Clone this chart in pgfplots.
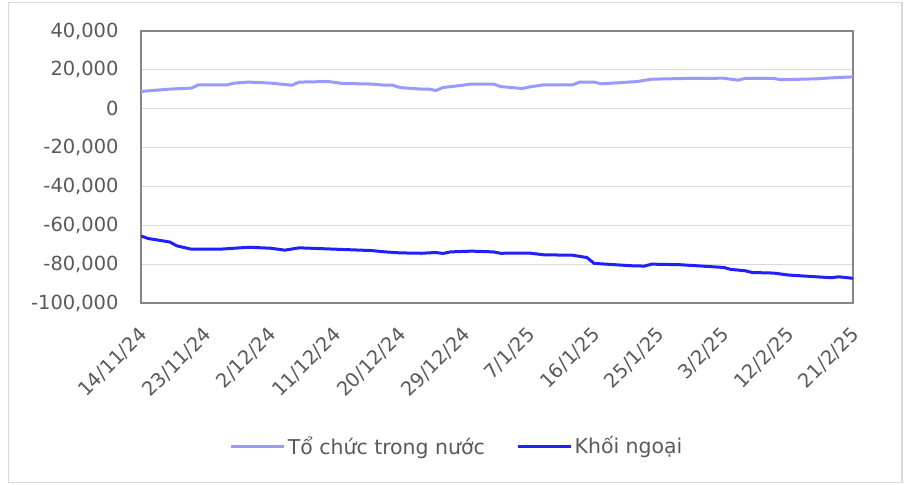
\documentclass[border=0pt]{standalone}
\usepackage{fontspec}
\setmainfont{DejaVu Sans}
\usepackage{pgfplots}
\pgfplotsset{compat=1.18}
\definecolor{dom}{HTML}{9999FF}
\definecolor{for}{HTML}{1F1FFF}
\definecolor{txt}{HTML}{595959}
\definecolor{grd}{HTML}{D9D9D9}
\definecolor{frm}{HTML}{868686}
\begin{document}
\begin{tikzpicture}
\useasboundingbox (0bp,0bp) rectangle (914bp,-485bp);
\draw[grd, line width=1.2bp] (8.5bp,-2.5bp) rectangle (902bp,-482.5bp);
\begin{axis}[
  at={(141bp,-303bp)}, anchor=south west,
  scale only axis, width=712bp, height=272bp,
  xmin=0, xmax=99, ymin=-100000, ymax=40000,
  axis line style={frm, line width=1.3bp},
  xtick={0,9,...,99},
  xticklabels={14/11/24,23/11/24,2/12/24,11/12/24,20/12/24,29/12/24,7/1/25,16/1/25,25/1/25,3/2/25,12/2/25,21/2/25},
  ytick={-100000,-80000,-60000,-40000,-20000,0,20000,40000},
  scaled y ticks=false,
  yticklabels={{-100,000},{-80,000},{-60,000},{-40,000},{-20,000},{0},{20,000},{40,000}},
  major tick length=0pt,
  ymajorgrids, grid style={grd, line width=1.2bp},
  tick label style={font=\fontsize{19.5}{22}\selectfont, text=txt},
  y tick label style={xshift=-19bp},
  x tick label style={rotate=45, anchor=east, xshift=-15bp, yshift=-22bp},
  legend style={at={(0.444,-0.526)}, anchor=center, draw=none, fill=none,
    font=\fontsize{20.5}{24}\selectfont, text=txt, legend columns=2,
    /tikz/every even column/.append style={column sep=30bp},
    inner xsep=0pt, legend cell align=left},
  legend image code/.code={\draw[#1] (0bp,0bp) -- (53bp,0bp);},
]
\addplot[dom, line width=3bp] coordinates {
(0,8870) (4,10100) (7,10600) (8,12300) (12,12300) (13,13200) (15,13700) (18,13200)
(21,12100) (22,13700) (26,14000) (28,13000) (32,12700) (34,12100) (35,12100) (36,10900)
(39,10100) (40,10100) (41,9400) (42,10900) (46,12700) (49,12700) (50,11400) (53,10400)
(54,11200) (56,12300) (60,12300) (61,13700) (63,13700) (64,12800) (67,13500) (69,14000)
(71,15200) (76,15600) (81,15700) (83,14700) (84,15600) (88,15600) (89,14900) (94,15400)
(96,15900) (99,16400)
};
\addlegendentry{Tổ chức trong nước}
\addplot[for, line width=3bp] coordinates {
(0,-65500) (1,-66800) (4,-68600) (5,-70600) (7,-72300) (11,-72300) (15,-71300) (18,-71800)
(20,-72800) (22,-71600) (27,-72300) (32,-73000) (34,-73700) (36,-74200) (39,-74400) (41,-74000)
(42,-74500) (43,-73700) (46,-73300) (49,-73700) (50,-74400) (54,-74300) (56,-75200) (60,-75400)
(62,-76600) (63,-79600) (68,-80800) (70,-81000) (71,-80000) (75,-80300) (81,-81700) (82,-82700)
(84,-83400) (85,-84300) (88,-84600) (90,-85600) (96,-87000) (97,-86500) (99,-87300)
};
\addlegendentry{Khối ngoại}
\end{axis}
\end{tikzpicture}
\end{document}
